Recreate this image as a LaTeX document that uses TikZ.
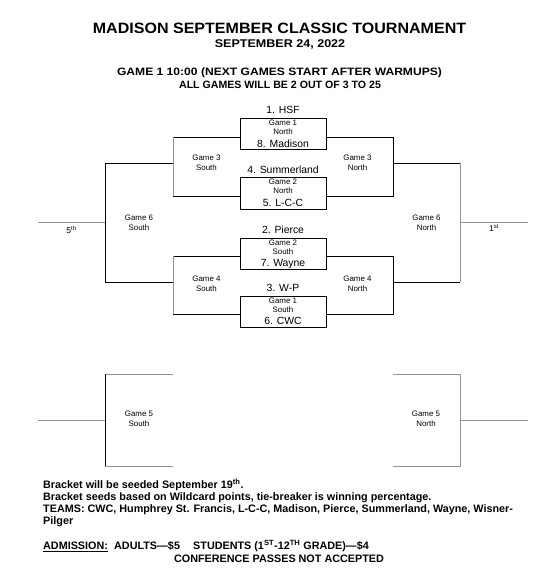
\documentclass[tikz,border=0pt]{standalone}
\usepackage{fontspec}
\setmainfont{Liberation Sans}
\usepackage{graphicx}
\newcommand\tmfont{\fontsize{10.4}{12}\selectfont}
\newcommand\gmfont{\fontsize{7.9}{9}\selectfont}
\newcommand\btfont{\fontsize{10.8}{12.5}\selectfont\bfseries}
\newcommand\hsc[2]{\scalebox{#1}[1]{#2}}
\begin{document}
\begin{tikzpicture}[x=1pt,y=-1pt,
  ln/.style={line width=0.8pt,black},
  gl/.style={line width=1pt,black!42},
  gamebox/.style={draw,line width=0.8pt,minimum width=86pt,minimum height=31.5pt,inner sep=0pt,anchor=north west},
  txt/.style={inner sep=0pt,anchor=base},
  ltxt/.style={inner sep=0pt,anchor=base west},
  ]
\useasboundingbox[fill=white] (0,0) rectangle (548,572);

% headings
\node[txt] (title) at (279.5,33.3) {\hsc{1.07}{\fontsize{15}{18}\selectfont\bfseries MADISON SEPTEMBER CLASSIC TOURNAMENT}};
\node[txt] (date) at (280,47.3) {\hsc{1.12}{\fontsize{11.2}{13}\selectfont\bfseries SEPTEMBER 24, 2022}};
\node[txt] (game1) at (279.5,76) {\hsc{1.13}{\fontsize{10.7}{13}\selectfont\bfseries GAME 1 10:00 (NEXT GAMES START AFTER WARMUPS)}};
\node[txt] (allg) at (280,88.7) {\fontsize{10.6}{13}\selectfont\bfseries ALL GAMES WILL BE 2 OUT OF 3 TO 25};

% first-round boxes
\node[gamebox] (b1) at (240,118) {};
\node[gamebox] (b2) at (240,177) {};
\node[gamebox] (b3) at (240,237.5) {};
\node[gamebox] (b4) at (240,295.5) {};

\node[txt,font=\tmfont] (s1) at (283,114) {1. HSF};
\node[txt,font=\gmfont] (b1a) at (283,125.7) {Game 1};
\node[txt,font=\gmfont] (b1b) at (283,134.7) {North};
\node[txt,font=\tmfont] (s8) at (283,147.3) {8. Madison};

\node[txt,font=\tmfont] (s4) at (283,173) {4. Summerland};
\node[txt,font=\gmfont] (b2a) at (283,184.7) {Game 2};
\node[txt,font=\gmfont] (b2b) at (283,193.7) {North};
\node[txt,font=\tmfont] (s5) at (283,206.3) {5. L-C-C};

\node[txt,font=\tmfont] (s2) at (283,233.5) {2. Pierce};
\node[txt,font=\gmfont] (b3a) at (283,245.2) {Game 2};
\node[txt,font=\gmfont] (b3b) at (283,254.2) {South};
\node[txt,font=\tmfont] (s7) at (283,266.8) {7. Wayne};

\node[txt,font=\tmfont] (s3) at (283,291.5) {3. W-P};
\node[txt,font=\gmfont] (b4a) at (283,303.2) {Game 1};
\node[txt,font=\gmfont] (b4b) at (283,312.2) {South};
\node[txt,font=\tmfont] (s6) at (283,324.8) {6. CWC};

% junction coordinates
\coordinate (g3sT) at (173,137);
\coordinate (g3sB) at (173,196);
\coordinate (g4sT) at (173,256);
\coordinate (g4sB) at (173,314);
\coordinate (g6sT) at (105,163);
\coordinate (g6sB) at (105,282);
\coordinate (g6sM) at (105,222);
\coordinate (fifth) at (38,222);
\coordinate (g3nT) at (393,137);
\coordinate (g3nB) at (393,196);
\coordinate (g4nT) at (393,256);
\coordinate (g4nB) at (393,314);
\coordinate (g6nT) at (460,163);
\coordinate (g6nB) at (460,282);
\coordinate (g6nM) at (460,222);
\coordinate (first) at (528,222);

% left side
\draw[ln] (b1.west |- g3sT) -- (g3sT);
\draw[ln] (b2.west |- g3sB) -- (g3sB);
\draw[gl] (g3sT) -- (g3sB);
\draw[ln] (b3.west |- g4sT) -- (g4sT);
\draw[ln] (b4.west |- g4sB) -- (g4sB);
\draw[gl] (g4sT) -- (g4sB);
\draw[ln] (g3sT |- g6sT) -- (g6sT) -- (g6sB) -- (g4sT |- g6sB);
\draw[gl] (g6sM) -- (fifth);

% right side
\draw[ln] (b1.east |- g3nT) -- (g3nT) -- (g3nB) -- (b2.east |- g3nB);
\draw[ln] (b3.east |- g4nT) -- (g4nT) -- (g4nB) -- (b4.east |- g4nB);
\draw[ln] (g3nT |- g6nT) -- (g6nT);
\draw[ln] (g4nT |- g6nB) -- (g6nB);
\draw[gl] (g6nT) -- (g6nB);
\draw[gl] (g6nM) -- (first);

% round labels
\node[txt,font=\gmfont] (g3sa) at (206.5,160.7) {Game 3};
\node[txt,font=\gmfont] (g3sb) at (206.5,170.3) {South};
\node[txt,font=\gmfont] (g4sa) at (206.5,281.7) {Game 4};
\node[txt,font=\gmfont] (g4sb) at (206.5,291.3) {South};
\node[txt,font=\gmfont] (g6sa) at (139,220.7) {Game 6};
\node[txt,font=\gmfont] (g6sb) at (139,230.3) {South};
\node[txt,font=\gmfont] (g3na) at (357.5,160.7) {Game 3};
\node[txt,font=\gmfont] (g3nb) at (357.5,170.3) {North};
\node[txt,font=\gmfont] (g4na) at (357.5,281.7) {Game 4};
\node[txt,font=\gmfont] (g4nb) at (357.5,291.3) {North};
\node[txt,font=\gmfont] (g6na) at (426.5,220.7) {Game 6};
\node[txt,font=\gmfont] (g6nb) at (426.5,230.3) {North};
\node[txt,font=\fontsize{8.5}{10}\selectfont] (l5) at (71.5,233.3) {5\textsuperscript{th}};
\node[txt,font=\fontsize{8.5}{10}\selectfont] (l1) at (494,231.5) {1\textsuperscript{st}};

% game 5 brackets
\coordinate (g5sT) at (105,374);
\coordinate (g5sB) at (105,466);
\coordinate (g5sM) at (105,420);
\coordinate (g5sTe) at (173,374);
\coordinate (g5sBe) at (173,466);
\coordinate (g5sL) at (38,420);
\coordinate (g5nT) at (460,374);
\coordinate (g5nB) at (460,466);
\coordinate (g5nM) at (460,420);
\coordinate (g5nTe) at (393,374);
\coordinate (g5nBe) at (393,466);
\coordinate (g5nR) at (528,420);
\draw[gl] (g5sTe) -- (g5sT);
\draw[gl] (g5sBe) -- (g5sB);
\draw[ln] (g5sT) -- (g5sB);
\draw[gl] (g5sM) -- (g5sL);
\draw[gl] (g5nTe) -- (g5nT) -- (g5nB) -- (g5nBe);
\draw[gl] (g5nM) -- (g5nR);
\node[txt,font=\gmfont] (g5sa) at (139,416.7) {Game 5};
\node[txt,font=\gmfont] (g5sb) at (139,426.5) {South};
\node[txt,font=\gmfont] (g5na) at (426,416.7) {Game 5};
\node[txt,font=\gmfont] (g5nb) at (426,426.5) {North};

% notes
\node[ltxt,font=\btfont] (n1) at (43,488) {Bracket will be seeded September 19\textsuperscript{th}.};
\node[ltxt,font=\btfont] (n2) at (43,500.3) {Bracket seeds based on Wildcard points, tie-breaker is winning percentage.};
\node[ltxt,font=\btfont] (n3) at (43,512.6) {TEAMS: CWC, Humphrey St. Francis, L-C-C, Madison, Pierce, Summerland, Wayne, Wisner-};
\node[ltxt,font=\btfont] (n4) at (43,524.9) {Pilger};
\node[ltxt,font=\btfont] (adm) at (43,549.3) {\underline{ADMISSION:}};
\node[ltxt,font=\btfont] (adu) at (114,549.3) {ADULTS—\$5};
\node[ltxt,font=\btfont] (stu) at (193,549.3) {STUDENTS (1\textsuperscript{ST}-12\textsuperscript{TH} GRADE)—\$4};
\node[txt,font=\btfont] (conf) at (279,562.7) {CONFERENCE PASSES NOT ACCEPTED};
\end{tikzpicture}
\end{document}
